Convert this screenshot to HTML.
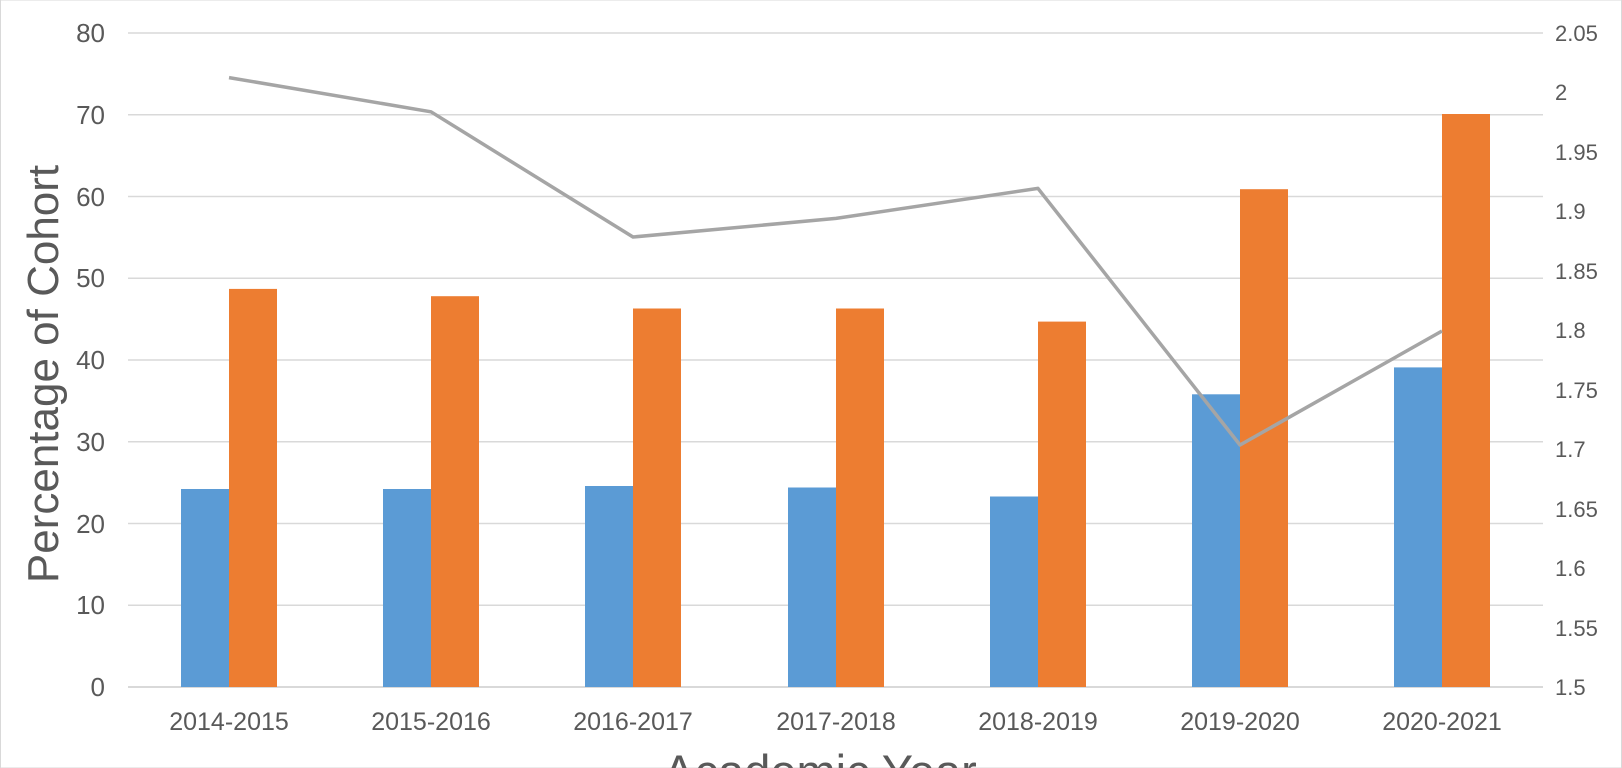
<!DOCTYPE html>
<html><head><style>body{margin:0;background:#fff}svg{display:block}</style></head><body>
<svg width="1622" height="768" xmlns="http://www.w3.org/2000/svg" font-family="Liberation Sans, sans-serif" fill="#595959">
<rect x="0.5" y="0" width="1621" height="768" fill="#fff" stroke="#d9d9d9"/>
<g stroke="#d9d9d9" stroke-width="1.5">
<line x1="128" x2="1543" y1="33" y2="33"/><line x1="128" x2="1543" y1="114.75" y2="114.75"/><line x1="128" x2="1543" y1="196.5" y2="196.5"/><line x1="128" x2="1543" y1="278.25" y2="278.25"/><line x1="128" x2="1543" y1="360" y2="360"/><line x1="128" x2="1543" y1="441.75" y2="441.75"/><line x1="128" x2="1543" y1="523.5" y2="523.5"/><line x1="128" x2="1543" y1="605.25" y2="605.25"/><line x1="128" x2="1543" y1="687" y2="687" stroke-width="2"/>
</g>
<g font-size="26" text-anchor="end">
<text x="105" y="42">80</text><text x="105" y="124">70</text><text x="105" y="206">60</text><text x="105" y="287">50</text><text x="105" y="369">40</text><text x="105" y="451">30</text><text x="105" y="533">20</text><text x="105" y="614">10</text><text x="105" y="696">0</text>
</g>
<g font-size="22">
<text x="1555" y="41">2.05</text><text x="1555" y="100">2</text><text x="1555" y="160">1.95</text><text x="1555" y="219">1.9</text><text x="1555" y="279">1.85</text><text x="1555" y="338">1.8</text><text x="1555" y="398">1.75</text><text x="1555" y="457">1.7</text><text x="1555" y="517">1.65</text><text x="1555" y="576">1.6</text><text x="1555" y="636">1.55</text><text x="1555" y="695">1.5</text>
</g>
<g fill="#5B9BD5">
<rect x="181" y="489" width="48" height="198"/>
<rect x="383" y="489" width="48" height="198"/>
<rect x="585" y="486" width="48" height="201"/>
<rect x="788" y="487.5" width="48" height="199.5"/>
<rect x="990" y="496.5" width="48" height="190.5"/>
<rect x="1192" y="394.3" width="48" height="292.7"/>
<rect x="1394" y="367.4" width="48" height="319.6"/>
</g>
<g fill="#ED7D31">
<rect x="229" y="288.9" width="48" height="398.1"/>
<rect x="431" y="296.2" width="48" height="390.8"/>
<rect x="633" y="308.5" width="48" height="378.5"/>
<rect x="836" y="308.5" width="48" height="378.5"/>
<rect x="1038" y="321.6" width="48" height="365.4"/>
<rect x="1240" y="189.2" width="48" height="497.8"/>
<rect x="1442" y="114" width="48" height="573"/>
</g>
<polyline points="229,77.6 431,111.8 633,237 836,218.4 1038,188.4 1240,445 1442,331" fill="none" stroke="#A5A5A5" stroke-width="3.5" stroke-linejoin="round"/>
<g font-size="25" text-anchor="middle">
<text x="229" y="730">2014-2015</text><text x="431" y="730">2015-2016</text><text x="633" y="730">2016-2017</text><text x="836" y="730">2017-2018</text><text x="1038" y="730">2018-2019</text><text x="1240" y="730">2019-2020</text><text x="1442" y="730">2020-2021</text>
</g>
<text x="820" y="788" font-size="47" text-anchor="middle">Academic Year</text>
<text transform="translate(58,374) rotate(-90)" font-size="44" text-anchor="middle">Percentage of Cohort</text>
</svg>
</body></html>
